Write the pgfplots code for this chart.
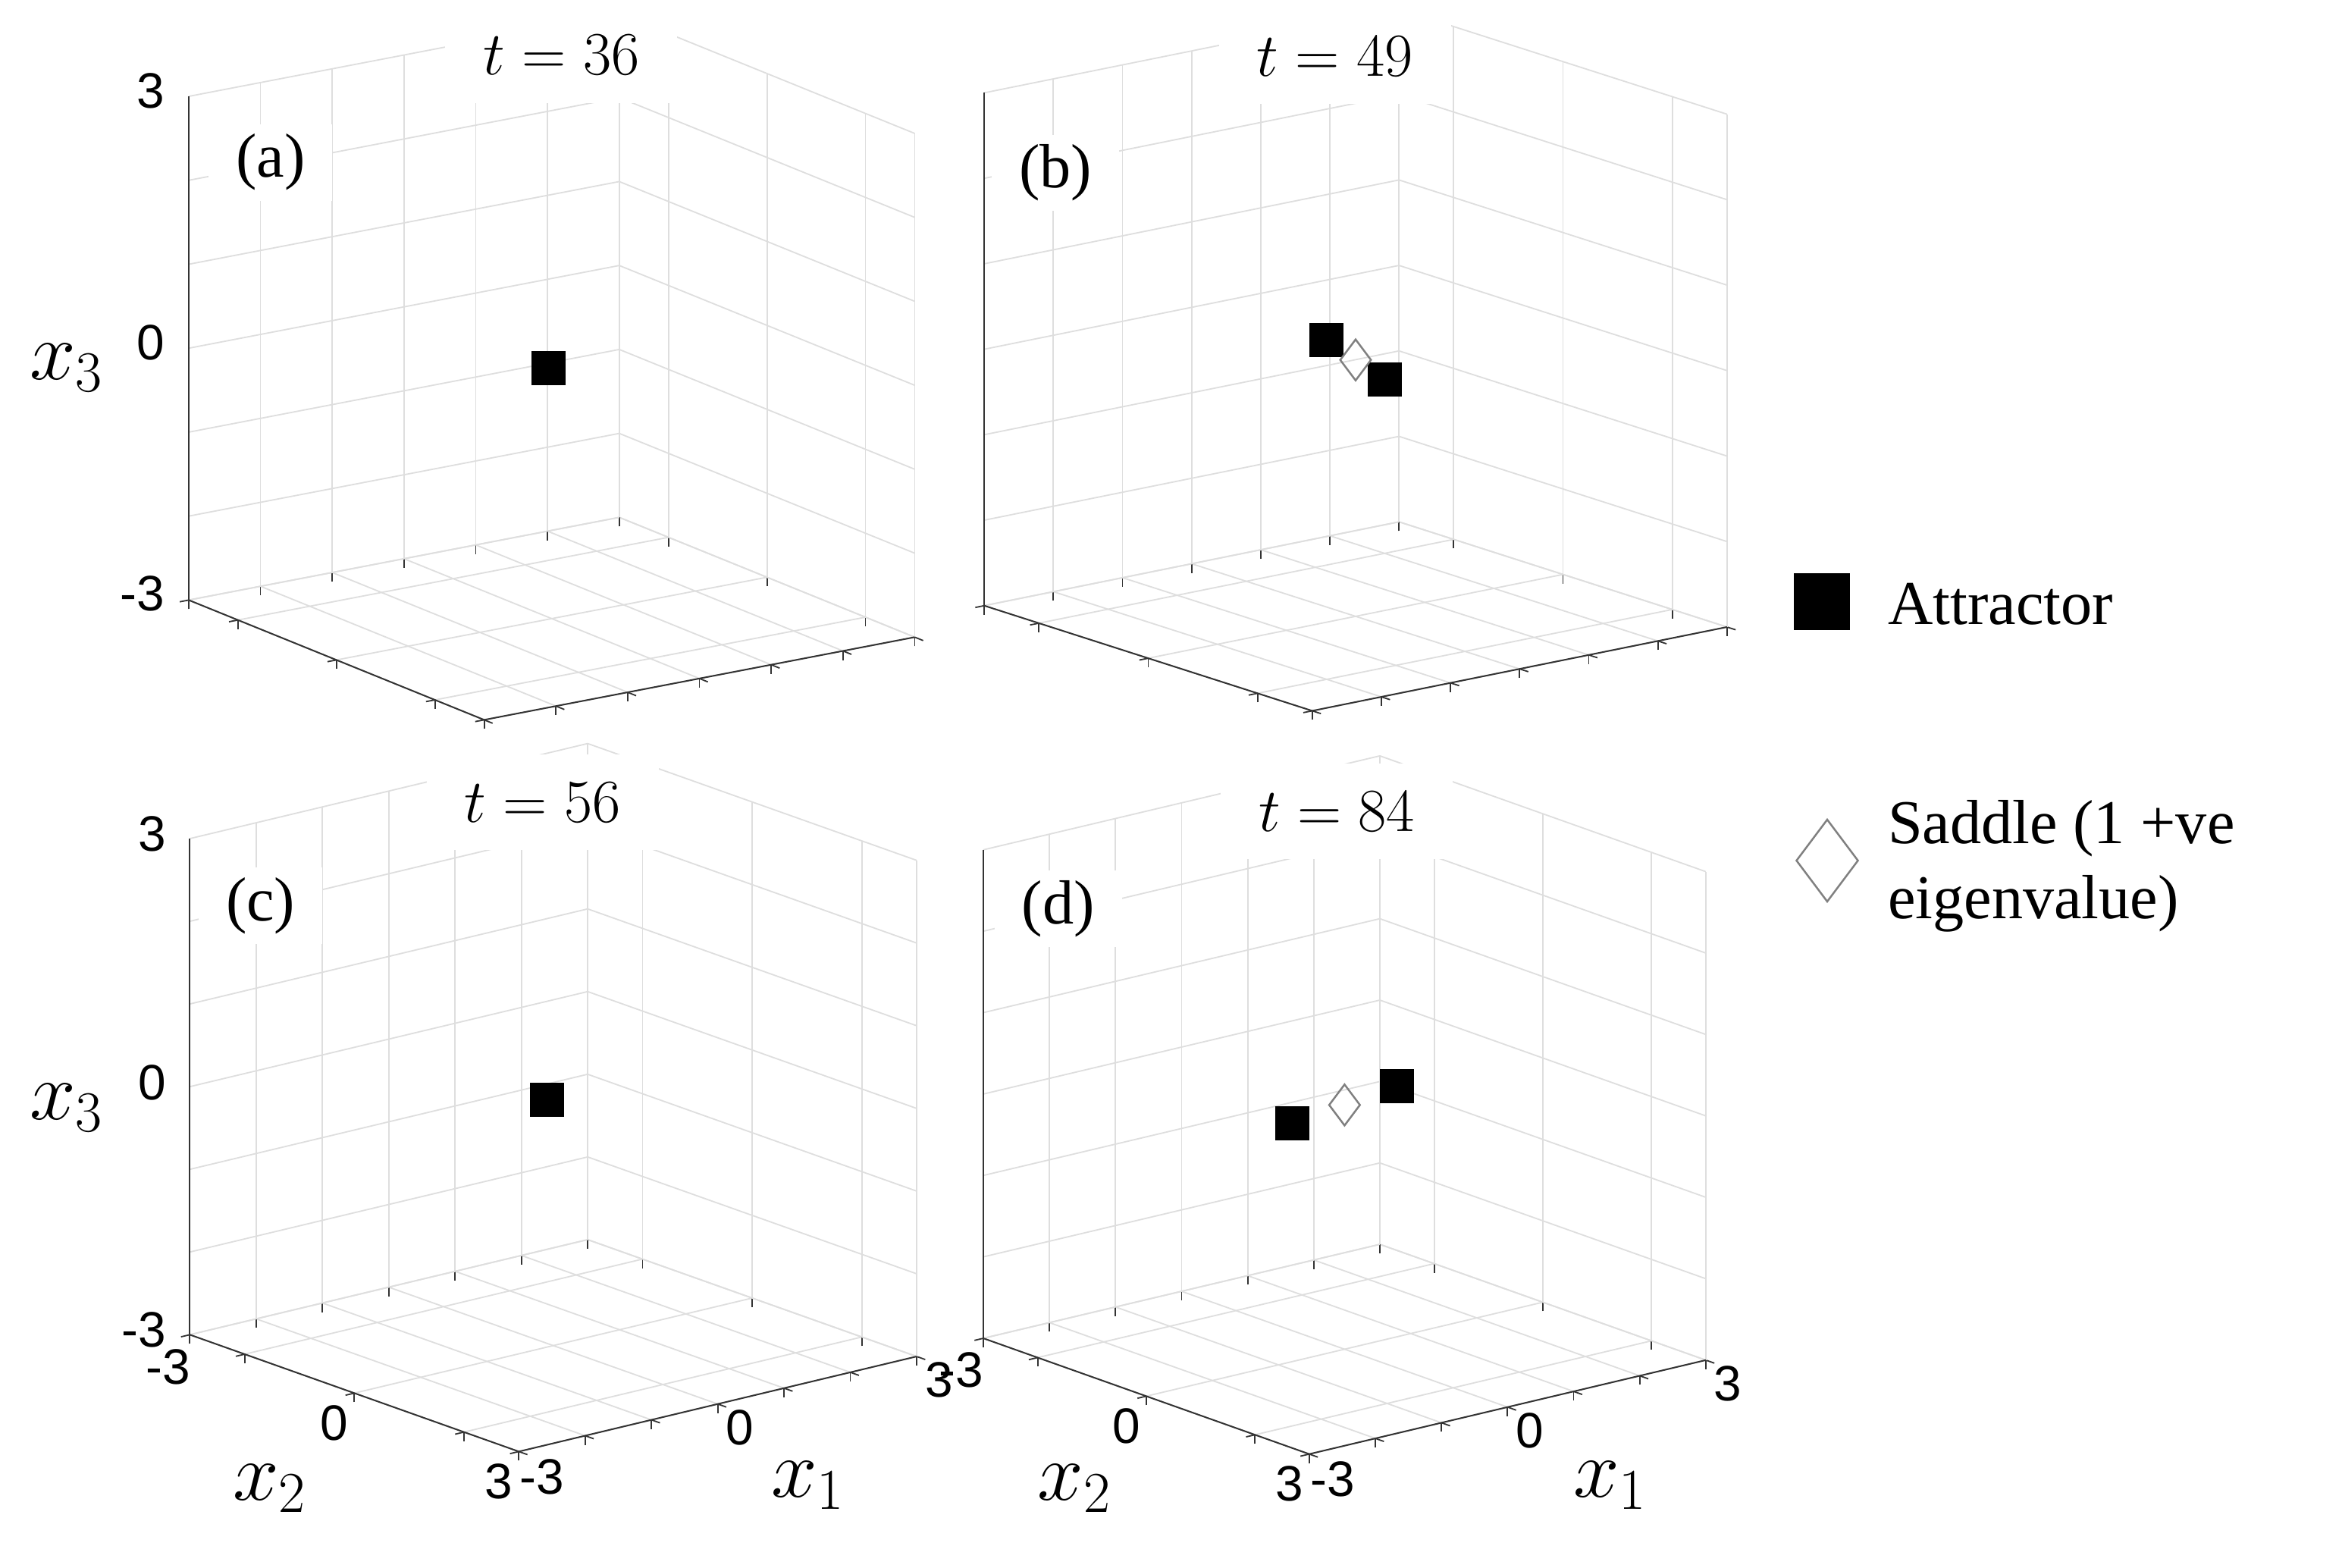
\RequirePackage{fix-cm}
\documentclass[border=0pt]{standalone}
\usepackage{fontspec}
\setmainfont{Liberation Serif}
\newfontfamily\ticksf{Liberation Sans}
\usepackage{pgfplots}
\pgfplotsset{compat=1.18}

% filled square with rounded corners (MATLAB style attractor marker)
\pgfdeclareplotmark{rsquare*}{%
  \pgfsetcornersarced{\pgfqpoint{0.38\pgfplotmarksize}{0.38\pgfplotmarksize}}%
  \pgfpathmoveto{\pgfqpoint{0pt}{-\pgfplotmarksize}}%
  \pgfpathlineto{\pgfqpoint{\pgfplotmarksize}{-\pgfplotmarksize}}%
  \pgfpathlineto{\pgfqpoint{\pgfplotmarksize}{\pgfplotmarksize}}%
  \pgfpathlineto{\pgfqpoint{-\pgfplotmarksize}{\pgfplotmarksize}}%
  \pgfpathlineto{\pgfqpoint{-\pgfplotmarksize}{-\pgfplotmarksize}}%
  \pgfpathclose
  \pgfusepathqfillstroke}

\tikzset{
  spine/.style={black!80, line width=0.02cm},
  ttl/.style={fill=white, inner xsep=0.5cm, inner ysep=0.37cm, anchor=base,
    font=\fontsize{23}{27}\selectfont},
  lett/.style={fill=white, inner xsep=0.36cm, inner ysep=0.13cm, anchor=base west,
    font=\fontsize{23.4}{28}\selectfont},
  lab/.style={anchor=base, inner sep=0pt, font=\fontsize{31}{36}\selectfont},
}

\pgfplotsset{
  panel/.style={
    anchor=origin,
    xmin=-3, xmax=3, ymin=-3, ymax=3, zmin=-3, zmax=3,
    y dir=reverse,
    xtick={-3,...,3}, ytick={-3,-2,0,2,3}, ztick={-3,...,3},
    xtick pos=left, ytick pos=left, ztick pos=right, zticklabel pos=left,
    ztick style={draw=none},
    grid=major,
    major grid style={draw=black!13, line width=0.018cm},
    axis line style={draw=none},
    tick align=outside,
    major tick length=0.12cm,
    tick style={black!80, line width=0.018cm},
    tick label style={font=\ticksf\fontsize{18.7}{22}\selectfont, text=black},
    xticklabel style={xshift=-0.08cm, yshift=0.10cm},
    yticklabel style={xshift=0.14cm},
    zticklabel style={xshift=-0.08cm},
    xticklabels={}, yticklabels={}, zticklabels={},
    clip=false,
  },
  xy labels/.style={xticklabels={-3,{},{},0,{},{},3}, yticklabels={-3,{},0,{},3}},
  z labels/.style={zticklabels={-3,{},{},0,{},{},3}},
  attr/.style={only marks, mark=rsquare*, mark size=0.22cm, black, line width=0.01cm},
  sadd/.style={only marks, mark=diamond, mark size=0.27cm, draw=black!50, line width=0.025cm},
  attr legend/.style={legend image code/.code={\draw[##1,xshift=-0.07cm,yshift=0.30cm] plot coordinates {(0cm,0cm)};}},
  sadd legend/.style={legend image code/.code={\draw[##1,yshift=-0.22cm] plot coordinates {(0cm,0cm)};}},
}

\begin{document}
\begin{tikzpicture}
\useasboundingbox (0,0) rectangle (30.89,-20.67);

% (a) t = 36
\begin{axis}[panel, z labels, at={(7.277cm,-4.837cm)},
  x={(0.9465cm,0.1818cm)}, y={(-0.6495cm,0.2633cm)}, z={(0cm,1.1072cm)}]
  \addplot3[attr] coordinates {(0,-0.06,-0.03)};
  \draw[spine] (axis cs:-3,-3,-3) -- (axis cs:-3,-3,3);
  \draw[spine] (axis cs:-3,-3,-3) -- (axis cs:-3,3,-3);
  \draw[spine] (axis cs:-3,3,-3) -- (axis cs:3,3,-3);
\end{axis}

% (b) t = 49
\begin{axis}[panel, at={(17.880cm,-4.747cm)},
  x={(0.9118cm,0.1842cm)}, y={(-0.7210cm,0.2312cm)}, z={(0cm,1.1272cm)}]
  \addplot3[attr] coordinates {(0.29,-0.90,0) (-0.29,0.90,0)};
  \addplot3[sadd] coordinates {(0,0,0)};
  \draw[spine] (axis cs:-3,-3,-3) -- (axis cs:-3,-3,3);
  \draw[spine] (axis cs:-3,-3,-3) -- (axis cs:-3,3,-3);
  \draw[spine] (axis cs:-3,3,-3) -- (axis cs:3,3,-3);
\end{axis}

% (c) t = 56
\begin{axis}[panel, xy labels, z labels, at={(7.297cm,-14.475cm)},
  x={(0.8745cm,0.2090cm)}, y={(-0.7232cm,0.2568cm)}, z={(0cm,1.0905cm)}]
  \addplot3[attr] coordinates {(0,-0.12,-0.06)};
  \draw[spine] (axis cs:-3,-3,-3) -- (axis cs:-3,-3,3);
  \draw[spine] (axis cs:-3,-3,-3) -- (axis cs:-3,3,-3);
  \draw[spine] (axis cs:-3,3,-3) -- (axis cs:3,3,-3);
\end{axis}

% (d) t = 84
\begin{axis}[panel, xy labels, at={(17.734cm,-14.573cm)},
  x={(0.8717cm,0.2065cm)}, y={(-0.7165cm,0.2545cm)}, z={(0cm,1.0737cm)}]
  \addplot3[attr] coordinates {(-0.95,0.19,0) (0.95,-0.19,0)};
  \addplot3[sadd] coordinates {(0,0,0)};
  \draw[spine] (axis cs:-3,-3,-3) -- (axis cs:-3,-3,3);
  \draw[spine] (axis cs:-3,-3,-3) -- (axis cs:-3,3,-3);
  \draw[spine] (axis cs:-3,3,-3) -- (axis cs:3,3,-3);
\end{axis}

% legend
\begin{axis}[hide axis, scale only axis, width=1cm, height=1cm,
  xmin=0, xmax=1, ymin=0, ymax=1, anchor=origin, at={(23.662cm,-7.568cm)},
  legend cell align=left,
  legend style={at={(axis description cs:0,0)}, anchor=north west,
    draw=none, fill=none, inner sep=0pt, outer sep=0pt,
    row sep=2.255cm, column sep=0.395cm,
    font=\fontsize{23.4}{27.9}\selectfont,
    nodes={inner sep=0pt, outer sep=0pt, anchor=base west}}]
  \addlegendimage{attr, mark size=0.368cm, attr legend}
  \addlegendentry{Attractor}
  \addlegendimage{sadd, mark size=0.54cm, sadd legend}
  \addlegendentry{\parbox[t]{6cm}{Saddle (1 +ve\\eigenvalue)}}
\end{axis}

% titles, panel letters, axis labels
\node[ttl] at (7.404,-0.989) {$t = 36$};
\node[ttl] at (17.606,-1.003) {$t = 49$};
\node[ttl] at (7.158,-10.84) {$t = 56$};
\node[ttl] at (17.633,-10.96) {$t = 84$};
\node[lett] at (2.745,-2.34) {(a)};
\node[lett] at (13.077,-2.476) {(b)};
\node[lett] at (2.613,-12.145) {(c)};
\node[lett] at (13.11,-12.18) {(d)};
\node[lab] at (0.878,-5.00) {$x_3$};
\node[lab] at (0.878,-14.76) {$x_3$};
\node[lab] at (3.559,-19.78) {$x_2$};
\node[lab] at (10.658,-19.746) {$x_1$};
\node[lab] at (14.174,-19.78) {$x_2$};
\node[lab] at (21.24,-19.746) {$x_1$};
\end{tikzpicture}
\end{document}
